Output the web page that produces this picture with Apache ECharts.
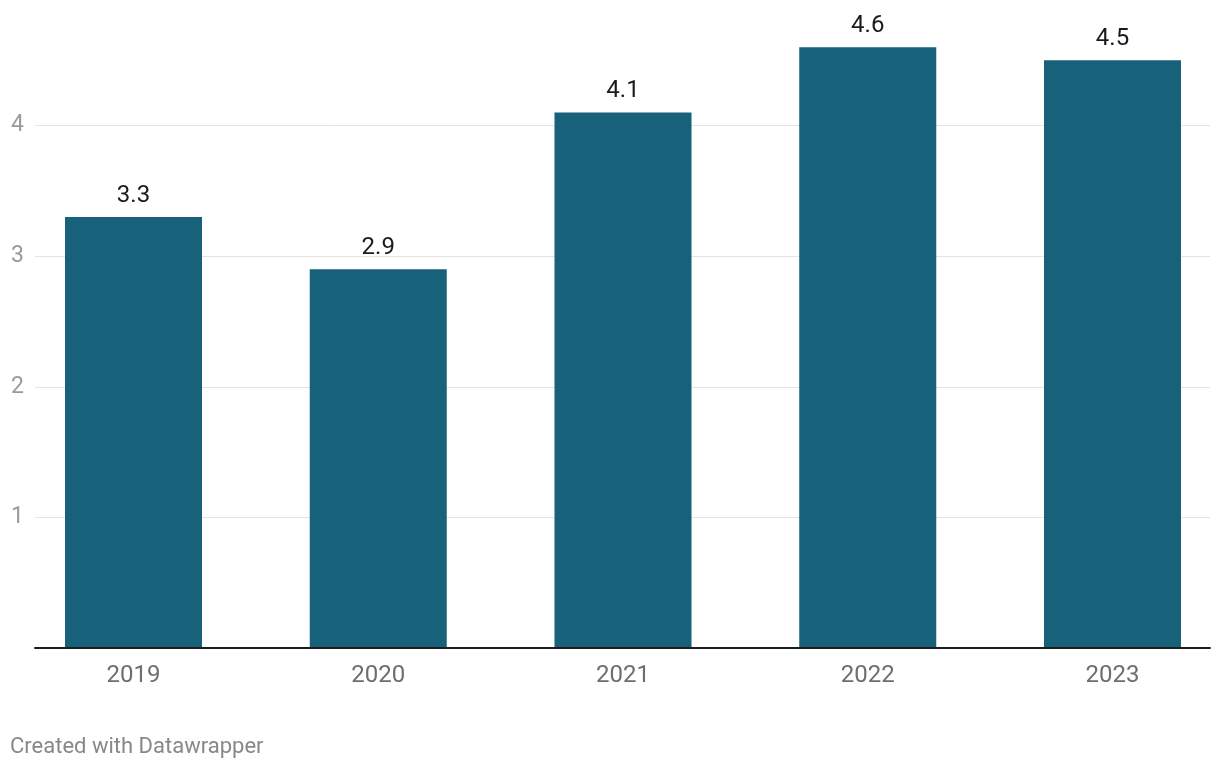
<!DOCTYPE html>
<html>
<head>
<meta charset="utf-8">
<script src="https://cdn.jsdelivr.net/npm/echarts@6/dist/echarts.min.js"></script>
<style>
html,body{margin:0;padding:0;background:#fff;overflow:hidden;width:1220px;height:770px;}
#chart{width:1240px;height:770px;}
</style>
</head>
<body>
<div id="chart"></div>
<script>
const categories = ['2019', '2020', '2021', '2022', '2023'];
const values = [3.3, 2.9, 4.1, 4.6, 4.5];
const yTicks = [0, 1, 2, 3, 4];

const chart = echarts.init(document.getElementById('chart'));
const font = 'Roboto, "Noto Sans", sans-serif';
chart.setOption({
  animation: false,
  backgroundColor: '#ffffff',
  textStyle: { fontFamily: font },
  grid: [
    { left: 35, width: 1175, top: 125.5, height: 522.5 },
    { left: 11.125, width: 1223.75, top: 125.5, height: 522.5 }
  ],
  xAxis: [
    { gridIndex: 0, type: 'value', min: 0, max: 1,
      axisLine: { show: true, lineStyle: { color: '#1d1d1d', width: 2 } },
      axisTick: { show: false }, axisLabel: { show: false }, splitLine: { show: false }, z: 5 },
    { gridIndex: 1, type: 'category', data: categories,
      axisLine: { show: false }, axisTick: { show: false },
      axisLabel: { color: '#6e6e6e', fontSize: 24, margin: 16, fontFamily: font },
      splitLine: { show: false } }
  ],
  yAxis: [
    { gridIndex: 0, type: 'value', min: yTicks[0], max: yTicks[yTicks.length - 1], interval: 1,
      axisLine: { show: false }, axisTick: { show: false },
      axisLabel: { color: '#9a9a9a', fontSize: 23, margin: 11, fontFamily: font,
        formatter: v => v === 0 ? '' : String(v) },
      splitLine: { show: true, lineStyle: { color: '#e3e3e3', width: 1 } } },
    { gridIndex: 1, type: 'value', min: yTicks[0], max: yTicks[yTicks.length - 1], interval: 1,
      show: false }
  ],
  series: [{
    type: 'bar',
    xAxisIndex: 1, yAxisIndex: 1,
    data: values,
    barWidth: 137,
    clip: false,
    itemStyle: { color: '#17617b' },
    label: { show: true, position: 'top', distance: 9, color: '#1a1a1a', fontSize: 24, fontFamily: font,
      formatter: p => p.value.toFixed(1) },
    z: 1
  }],
  graphic: [{
    type: 'text', left: 10, top: 736,
    style: { text: 'Created with Datawrapper', fill: '#888888', fontSize: 22, fontFamily: font }
  }]
});
</script>
</body>
</html>
